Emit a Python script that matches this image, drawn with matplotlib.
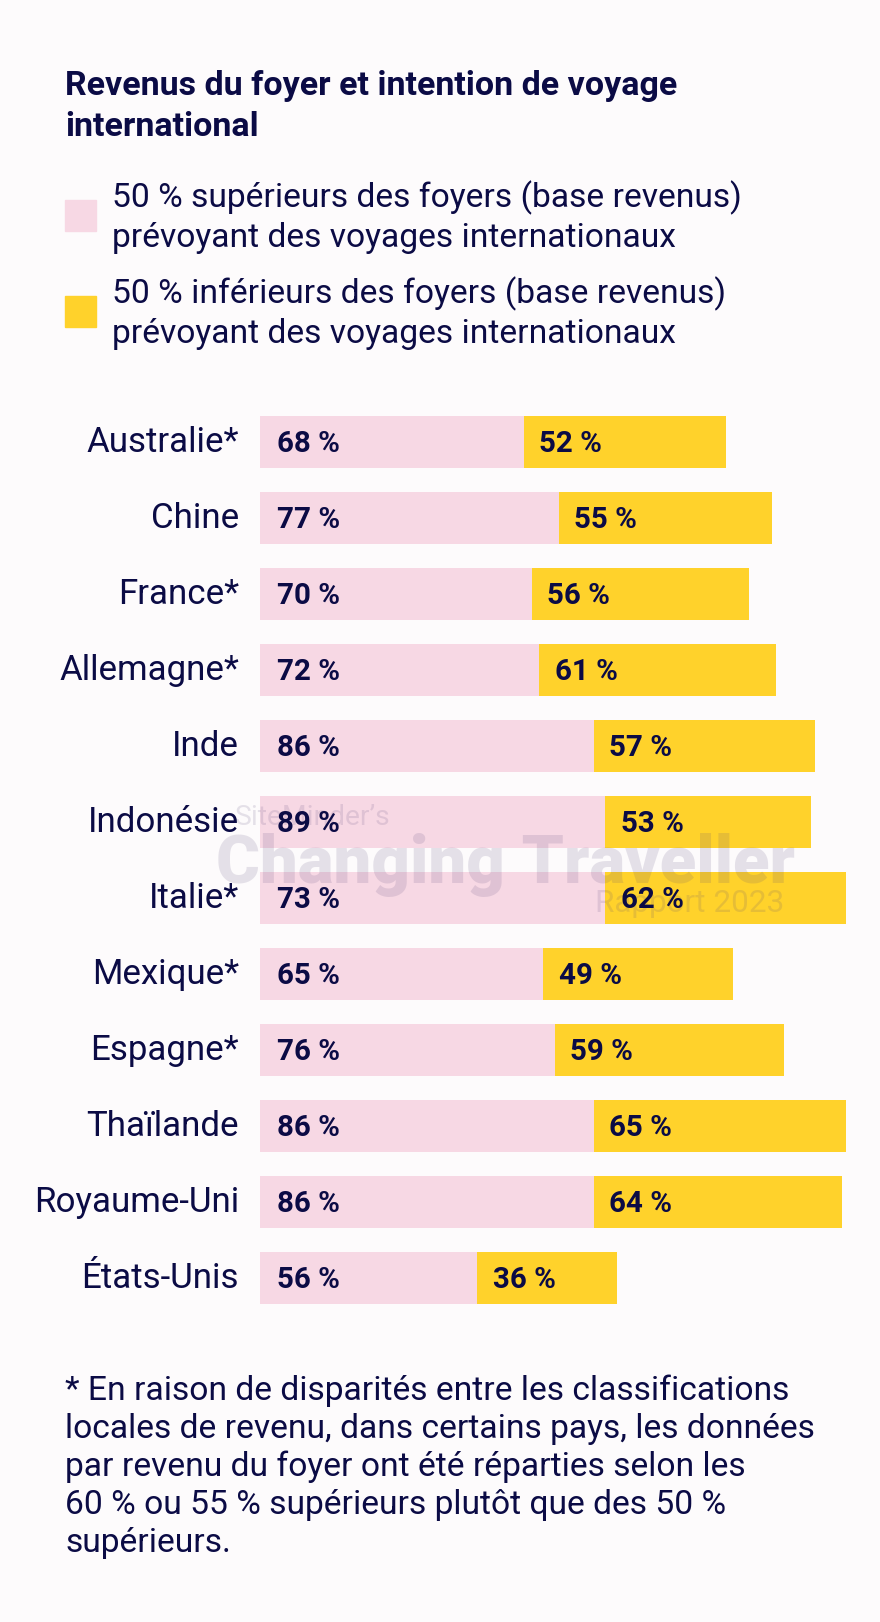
import matplotlib
matplotlib.use("Agg")
import matplotlib.pyplot as plt

# ---------------- data ----------------
countries = ["Australie*", "Chine", "France*", "Allemagne*", "Inde", "Indonésie",
             "Italie*", "Mexique*", "Espagne*", "Thaïlande", "Royaume-Uni", "États-Unis"]
top_half = [68, 77, 70, 72, 86, 89, 73, 65, 76, 86, 86, 56]        # labelled values
bottom_half = [52, 55, 56, 61, 57, 53, 62, 49, 59, 65, 64, 36]     # labelled values
# pink segment lengths as drawn in the source graphic (Italie / Mexique differ from labels)
top_half_drawn = [68, 77, 70, 72, 86, 89, 89, 73, 76, 86, 86, 56]

title_lines = ["Revenus du foyer et intention de voyage", "international"]
legend_top = ["50 % supérieurs des foyers (base revenus)", "prévoyant des voyages internationaux"]
legend_bottom = ["50 % inférieurs des foyers (base revenus)", "prévoyant des voyages internationaux"]
footnote_lines = ["* En raison de disparités entre les classifications",
                  "locales de revenu, dans certains pays, les données",
                  "par revenu du foyer ont été réparties selon les",
                  "60 % ou 55 % supérieurs plutôt que des 50 %",
                  "supérieurs."]

# ---------------- style ----------------
BG = "#FDFBFC"
PINK = "#F7D8E4"
YELLOW = "#FFD22B"
TXT = "#0B0B45"
WM = "#5A4A7A"
FONT = ["Roboto", "DejaVu Sans"]
plt.rcParams["font.family"] = FONT

W, H = 880, 1622
fig = plt.figure(figsize=(W / 100, H / 100), dpi=100, facecolor=BG)
renderer = fig.canvas.get_renderer()


def fx(px):
    return px / W


def fy(py):
    return 1 - py / H


def fit(text, target, weight="normal"):
    t = fig.text(0, 0, text, fontsize=20, weight=weight)
    w = t.get_window_extent(renderer).width
    t.remove()
    return 20 * target / w


fs_title = fit(title_lines[0], 612, "bold")
fs_leg = fit(legend_top[0], 629)
fs_cty = fit("Royaume-Uni", 205)
fs_bar = fit("68 %", 63, "bold")
fs_foot = fit(footnote_lines[1], 748)

# ---------------- title & legend ----------------
for i, line in enumerate(title_lines):
    fig.text(fx(65), fy(95 + 41 * i), line, fontsize=fs_title, weight="bold",
             color=TXT, va="baseline", ha="left")

for sq_top, lines, col in [(200, legend_top, PINK), (296, legend_bottom, YELLOW)]:
    fig.patches.append(plt.Rectangle((fx(65), fy(sq_top + 31)), 31 / W, 31 / H,
                                     transform=fig.transFigure, color=col, figure=fig))
    base = sq_top + 7
    for j, line in enumerate(lines):
        fig.text(fx(112), fy(base + 39.5 * j), line, fontsize=fs_leg, color=TXT,
                 va="baseline", ha="left")

# ---------------- bars ----------------
pitch = 76
first_c = 441.8
n = len(countries)
ax_top = first_c - pitch / 2
ax_bot = first_c + pitch * (n - 1) + pitch / 2
px_per = 3.88
ax = fig.add_axes([fx(260), fy(ax_bot), fx(880) - fx(260), (ax_bot - ax_top) / H])
ax.set_xlim(0, (880 - 260) / px_per)
ax.set_ylim(n - 0.5, -0.5)
ax.axis("off")
ax.set_facecolor("none")

ypos = list(range(n))
ax.barh(ypos, top_half_drawn, height=52 / pitch, color=PINK, zorder=1)
ax.barh(ypos, bottom_half, left=top_half_drawn, height=52 / pitch, color=YELLOW, zorder=1)

cap_off = -10.5 * 0.72  # points: shift baseline so caps are centred
for i in range(n):
    ax.annotate(countries[i], xy=(0, i), xytext=(-21 * 0.72, cap_off),
                textcoords="offset points", ha="right", va="baseline",
                fontsize=fs_cty, color=TXT, zorder=3)
    ax.annotate(f"{top_half[i]} %", xy=(0, i), xytext=(16.5 * 0.72, cap_off),
                textcoords="offset points", ha="left", va="baseline",
                fontsize=fs_bar, weight="bold", color=TXT, zorder=3)
    ax.annotate(f"{bottom_half[i]} %", xy=(top_half_drawn[i], i), xytext=(15.5 * 0.72, cap_off),
                textcoords="offset points", ha="left", va="baseline",
                fontsize=fs_bar, weight="bold", color=TXT, zorder=3)

# ---------------- watermark ----------------
fs_wm1 = fit("SiteMinder’s", 155)
fs_wm2 = fit("Changing Traveller", 581, "heavy")
fs_wm3 = fit("Rapport 2023", 189)
ax.text(fx(235), fy(825), "SiteMinder’s", transform=fig.transFigure, fontsize=fs_wm1,
        color=WM, alpha=0.15, ha="left", va="baseline", zorder=2)
ax.text(fx(216), fy(883), "Changing Traveller", transform=fig.transFigure, fontsize=fs_wm2,
        weight="heavy", color=WM, alpha=0.15, ha="left", va="baseline", zorder=2)
ax.text(fx(784), fy(912), "Rapport 2023", transform=fig.transFigure, fontsize=fs_wm3,
        color=WM, alpha=0.15, ha="right", va="baseline", zorder=2)

# ---------------- footnote ----------------
for k, line in enumerate(footnote_lines):
    fig.text(fx(65), fy(1400 + 38 * k), line, fontsize=fs_foot, color=TXT,
             va="baseline", ha="left")

fig.savefig("out.png", dpi=100, facecolor=BG)
